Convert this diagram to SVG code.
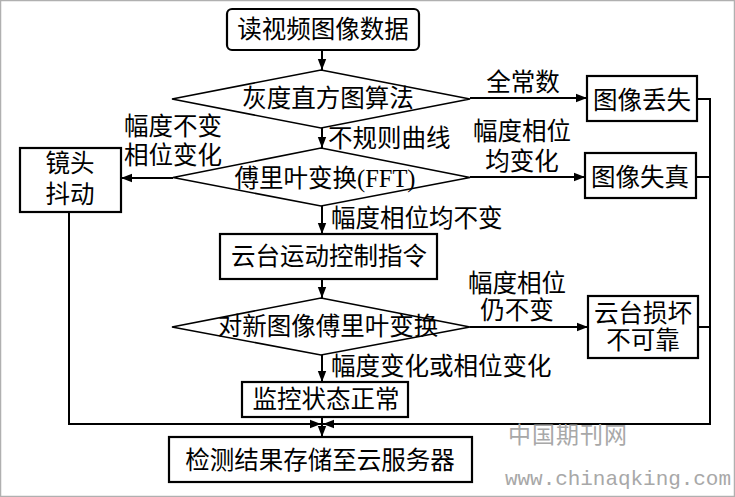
<svg xmlns="http://www.w3.org/2000/svg" width="735" height="497" viewBox="0 0 735 497">
<defs>
<marker id="ah" markerWidth="12" markerHeight="10" refX="11" refY="5" orient="auto" markerUnits="userSpaceOnUse">
<path d="M0,0.8 L11,5 L0,9.2 Z" fill="#000"/>
</marker>
</defs>
<style>
text{font-family:"Liberation Serif","Noto Sans CJK SC",serif;font-size:24.5px;fill:#000}
.n{text-anchor:middle}
.box{fill:#fff;stroke:#000;stroke-width:2.2}
.dia{fill:#fff;stroke:#000;stroke-width:1.6}
.ln{fill:none;stroke:#000;stroke-width:2}
.arr{fill:none;stroke:#000;stroke-width:2;marker-end:url(#ah)}
.wm{fill:#a8a8a8}
</style>
<rect x="0.5" y="0.5" width="734" height="496" fill="#fff" stroke="#b0b0b0" stroke-width="1.5"/>
<g id="connectors">
<line class="arr" x1="322" y1="50" x2="322" y2="70"/>
<line class="arr" x1="322" y1="128" x2="322" y2="148"/>
<line class="arr" x1="470" y1="98" x2="587" y2="98"/>
<line class="arr" x1="173" y1="178" x2="121" y2="178"/>
<line class="arr" x1="470" y1="177" x2="585" y2="177"/>
<line class="arr" x1="322" y1="206" x2="322" y2="234"/>
<line class="arr" x1="322" y1="279" x2="322" y2="298"/>
<line class="arr" x1="470" y1="327" x2="588" y2="327"/>
<line class="arr" x1="322" y1="355" x2="322" y2="382"/>
<line class="arr" x1="322" y1="417" x2="322" y2="437"/>
<polyline class="arr" points="69,212 69,424 321,424"/>
<line class="ln" x1="697" y1="99" x2="710" y2="99"/>
<line class="ln" x1="696" y1="177" x2="710" y2="177"/>
<line class="ln" x1="698" y1="327" x2="710" y2="327"/>
<polyline class="arr" points="710,98 710,424 323,424"/>
<text x="523" y="91" class="n">全常数</text>
<text x="328" y="147">不规则曲线</text>
<text x="124" y="135">幅度不变</text>
<text x="124" y="164">相位变化</text>
<text x="522" y="140" class="n">幅度相位</text>
<text x="522" y="170" class="n">均变化</text>
<text x="331" y="227">幅度相位均不变</text>
<text x="517" y="292" class="n">幅度相位</text>
<text x="517" y="319" class="n">仍不变</text>
<text x="331" y="375">幅度变化或相位变化</text>
</g>
<g id="n_read">
<rect class="box" x="227" y="9" width="192" height="41" rx="5"/>
<text x="323" y="38" class="n">读视频图像数据</text>
</g>
<g id="n_gray">
<polygon class="dia" points="321,70 470,99 321,128 172,99"/>
<text x="328" y="107" class="n">灰度直方图算法</text>
</g>
<g id="n_fft">
<polygon class="dia" points="321,148 470,177.5 321,206 173,177.5"/>
<text x="325" y="187" class="n">傅里叶变换(FFT)</text>
</g>
<g id="n_shake">
<rect class="box" x="20" y="148" width="101" height="64"/>
<text x="70" y="172" class="n">镜头</text>
<text x="70" y="203" class="n">抖动</text>
</g>
<g id="n_lost">
<rect class="box" x="587" y="76" width="110" height="45"/>
<text x="642" y="109" class="n">图像丢失</text>
</g>
<g id="n_distort">
<rect class="box" x="585" y="153" width="111" height="45"/>
<text x="640" y="186" class="n">图像失真</text>
</g>
<g id="n_ptz">
<rect class="box" x="220" y="234" width="217" height="45"/>
<text x="329" y="265" class="n">云台运动控制指令</text>
</g>
<g id="n_fft2">
<polygon class="dia" points="321,298 470,327 321,355 172,327"/>
<text x="328" y="335" class="n">对新图像傅里叶变换</text>
</g>
<g id="n_broken">
<rect class="box" x="588" y="296" width="110" height="62"/>
<text x="643" y="322" class="n">云台损坏</text>
<text x="643" y="349" class="n">不可靠</text>
</g>
<g id="n_normal">
<rect class="box" x="242" y="382" width="166" height="35"/>
<text x="326" y="408" class="n">监控状态正常</text>
</g>
<g id="n_store">
<rect class="box" x="169" y="437" width="303" height="45"/>
<text x="320" y="469" class="n">检测结果存储至云服务器</text>
</g>
<text x="508" y="443" class="wm" style="font-size:23px;letter-spacing:1px">中国期刊网</text>
<text x="505" y="485" class="wm" style="font-family:'Liberation Mono',monospace;font-size:21px" textLength="226">www.chinaqking.com</text>
</svg>
